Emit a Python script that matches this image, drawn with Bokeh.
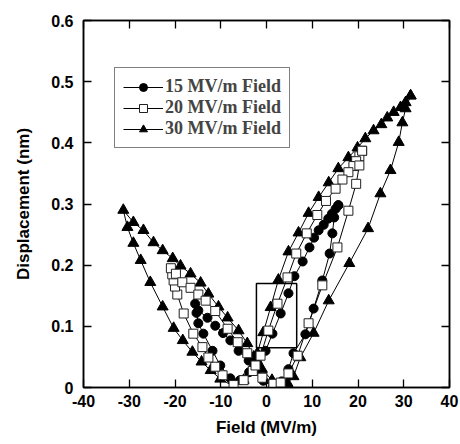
from bokeh.plotting import figure
from bokeh.models import (LinearAxis, FixedTicker, NumeralTickFormatter, Legend,
                          LegendItem, BoxAnnotation, Range1d, CustomJSTickFormatter)
from bokeh.embed import file_html
from bokeh.resources import INLINE

# ---- data ----
field_15 = [15.7, 15.1, 14.3, 13.5, 12.5, 11.4, 10.4, 9.4, 7.9, 6.1, 4.8, 3.1, 1.3, -0.2,
            -2.0, -3.8, -5.8, -7.9, -10.1, -11.8, -13.8, -14.9, -15.3, -15.6, -14.9, -12.9,
            -11.2, -9.5, -7.9, -6.1, -3.9, -2.4, -0.7, 1.5, 3.3, 4.8, 5.9, 8.5, 10.3, 12.2,
            13.8, 14.4, 14.8, 15.7]
disp_15 = [0.298, 0.292, 0.284, 0.276, 0.266, 0.257, 0.245, 0.229, 0.206, 0.182, 0.154,
           0.121, 0.088, 0.060, 0.040, 0.025, 0.012, 0.015, 0.036, 0.060, 0.088, 0.105,
           0.122, 0.137, 0.126, 0.114, 0.101, 0.089, 0.077, 0.060, 0.044, 0.027, 0.011,
           0.003, 0.010, 0.030, 0.056, 0.087, 0.129, 0.175, 0.219, 0.252, 0.278, 0.298]

field_20 = [20.9, 20.3, 19.6, 19.0, 17.9, 16.6, 15.1, 13.0, 11.1, 8.8, 6.5, 4.6, 2.4, 0.4,
            -1.3, -3.0, -5.0, -7.2, -9.6, -11.2, -12.7, -14.0, -16.0, -18.1, -19.5, -20.0,
            -20.3, -20.6, -20.9, -19.8, -18.4, -16.6, -14.9, -13.3, -11.2, -8.5, -6.3, -4.2,
            -2.4, -0.9, 1.5, 3.1, 4.8, 6.8, 9.2, 12.2, 15.5, 17.9, 19.6, 20.3, 20.9]
disp_20 = [0.387, 0.378, 0.370, 0.362, 0.352, 0.340, 0.325, 0.305, 0.282, 0.252, 0.219,
           0.180, 0.137, 0.093, 0.052, 0.027, 0.012, 0.004, 0.020, 0.034, 0.049, 0.066,
           0.088, 0.121, 0.152, 0.165, 0.175, 0.185, 0.195, 0.186, 0.172, 0.163, 0.152,
           0.142, 0.125, 0.096, 0.074, 0.056, 0.036, 0.016, 0.006, 0.008, 0.023, 0.052,
           0.105, 0.167, 0.229, 0.289, 0.333, 0.363, 0.387]

field_30 = [31.5, 30.4, 29.3, 27.8, 26.4, 25.1, 23.4, 21.6, 19.9, 17.9, 15.7, 13.6, 11.4,
            9.2, 7.0, 4.8, 2.6, 0.9, -0.7, -2.0, -3.3, -5.0, -7.2, -10.1, -12.2, -14.2,
            -16.2, -18.3, -20.3, -22.7, -25.4, -27.5, -29.1, -30.4, -31.3, -29.1, -26.9,
            -24.7, -22.7, -20.5, -18.8, -16.6, -14.4, -12.7, -10.5, -8.5, -6.1, -4.2, -2.8,
            -1.0, 1.2, 3.0, 4.6, 5.9, 7.4, 10.3, 13.6, 18.1, 22.2, 24.9, 27.1, 28.9, 29.7,
            30.4, 31.5]
disp_30 = [0.477, 0.466, 0.458, 0.450, 0.441, 0.430, 0.420, 0.407, 0.392, 0.376, 0.358,
           0.335, 0.311, 0.285, 0.253, 0.222, 0.176, 0.131, 0.090, 0.056, 0.030, 0.012,
           0.002, 0.014, 0.028, 0.042, 0.058, 0.077, 0.097, 0.132, 0.172, 0.208, 0.236,
           0.262, 0.290, 0.270, 0.257, 0.237, 0.224, 0.211, 0.199, 0.186, 0.171, 0.153,
           0.132, 0.114, 0.093, 0.072, 0.050, 0.030, 0.012, 0.004, 0.007, 0.018, 0.049,
           0.089, 0.142, 0.203, 0.260, 0.317, 0.355, 0.401, 0.433, 0.456, 0.477]

series_labels = ["15 MV/m Field", "20 MV/m Field", "30 MV/m Field"]
x_ticks = [-40, -30, -20, -10, 0, 10, 20, 30, 40]
y_ticks = [0, 0.1, 0.2, 0.3, 0.4, 0.5, 0.6]
inset_box = [-2.2, 6.6, 0.065, 0.170]  # left, right, bottom, top

# ---- figure ----
p = figure(width=460, height=444, x_range=Range1d(-40, 40), y_range=Range1d(0, 0.6),
           output_backend="svg", toolbar_location=None,
           min_border_left=83, min_border_right=11, min_border_top=20, min_border_bottom=57,
           x_axis_label="Field (MV/m)", y_axis_label="Displacement (nm)")
p.xgrid.grid_line_color = None
p.ygrid.grid_line_color = None
p.outline_line_color = "black"
p.outline_line_width = 1.5
p.background_fill_color = "white"
p.border_fill_color = "white"

xt = FixedTicker(ticks=x_ticks, num_minor_ticks=5)
yt = FixedTicker(ticks=y_ticks, num_minor_ticks=5)


def style_axis(ax):
    ax.axis_line_color = "black"
    ax.axis_line_width = 1.5
    ax.major_tick_in = 8
    ax.major_tick_out = 0
    ax.minor_tick_in = 4
    ax.minor_tick_out = 0
    ax.major_tick_line_width = 1.3
    ax.minor_tick_line_width = 1
    ax.major_tick_line_color = "black"
    ax.minor_tick_line_color = "black"
    ax.major_label_text_font = "Liberation Sans"
    ax.major_label_text_font_style = "bold"
    ax.major_label_text_font_size = "16px"
    ax.major_label_text_color = "black"
    ax.axis_label_text_font = "Liberation Sans"
    ax.axis_label_text_font_style = "bold"
    ax.axis_label_text_font_size = "17px"
    ax.axis_label_text_color = "black"


p.xaxis.ticker = xt
p.yaxis.ticker = yt
p.yaxis.formatter = NumeralTickFormatter(format="0.[0]")
p.xaxis.formatter = NumeralTickFormatter(format="0")
style_axis(p.xaxis[0])
style_axis(p.yaxis[0])
p.xaxis.major_label_standoff = 7
p.xaxis.axis_label_standoff = 8
p.yaxis.major_label_standoff = 10
p.yaxis.axis_label_standoff = 15

blank = CustomJSTickFormatter(code="return ''")
top = LinearAxis(ticker=xt, formatter=blank)
right = LinearAxis(ticker=yt, formatter=blank)
style_axis(top)
style_axis(right)
top.major_label_standoff = 0
right.major_label_standoff = 0
p.add_layout(top, "above")
p.add_layout(right, "right")

# ---- data glyphs ----
l30 = p.line(field_30, disp_30, line_color="black", line_width=1)
l20 = p.line(field_20, disp_20, line_color="black", line_width=1)
l15 = p.line(field_15, disp_15, line_color="black", line_width=1)
s30 = p.scatter(field_30, disp_30, marker="triangle", size=11, fill_color="black",
                line_color="black")
s15 = p.scatter(field_15, disp_15, marker="circle", size=9, fill_color="black",
                line_color="black")
s20 = p.scatter(field_20, disp_20, marker="square", size=9, fill_color="white",
                line_color="#222222", line_width=1)

p.add_layout(BoxAnnotation(left=inset_box[0], right=inset_box[1], bottom=inset_box[2],
                           top=inset_box[3], fill_alpha=0, line_color="black",
                           line_alpha=1, line_width=1.5))

legend = Legend(items=[LegendItem(label=series_labels[0], renderers=[l15, s15]),
                       LegendItem(label=series_labels[1], renderers=[l20, s20]),
                       LegendItem(label=series_labels[2], renderers=[l30, s30])],
                location=(31, 239), border_line_color="black", border_line_width=1.5,
                label_text_font="Liberation Serif", label_text_font_style="bold",
                label_text_font_size="18px", glyph_width=40, glyph_height=20,
                label_height=20, spacing=0, padding=8, label_standoff=2, margin=0,
                background_fill_color="white", background_fill_alpha=1)
p.add_layout(legend)

open("out.html", "w").write(file_html(p, INLINE))
